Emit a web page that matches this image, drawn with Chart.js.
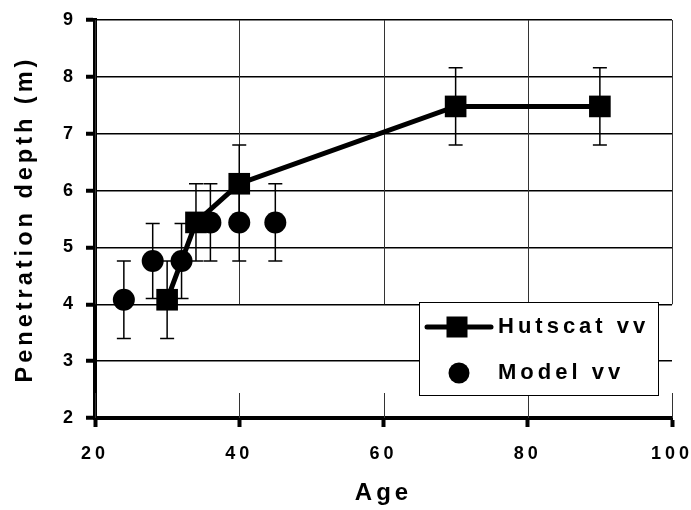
<!DOCTYPE html>
<html><head><meta charset="utf-8">
<script src="https://cdn.jsdelivr.net/npm/chart.js@4.4.1/dist/chart.umd.min.js"></script>
<style>html,body{margin:0;padding:0;background:#fff;} canvas{display:block}</style>
</head><body>
<canvas id="c" width="691" height="510" style="width:691px;height:510px"></canvas>
<script>
const hutscatAge = [30, 34, 40, 70, 90];
const hutscatDepth = [4.08, 5.44, 6.12, 7.48, 7.48];
const hutscatErr = [0.68, 0.68, 0.68, 0.68, 0.68];
const modelAge = [24, 28, 32, 36, 40, 45];
const modelDepth = [4.08, 4.76, 4.76, 5.44, 5.44, 5.44];
const modelErr = [0.68, 0.66, 0.66, 0.68, 0.68, 0.68];
const seriesNames = ['Hutscat vv', 'Model vv'];
const xTitle = 'Age';
const yTitle = 'Penetration depth (m)';
const xTicks = [20, 40, 60, 80, 100];
const yTicks = [2, 3, 4, 5, 6, 7, 8, 9];

const FONT = "'Liberation Sans', Arial, sans-serif";

function toPoints(xs, ys) { return xs.map((x, i) => ({ x: x, y: ys[i] })); }

const spacingPlugin = {
  id: 'spacing',
  beforeLayout(chart) { chart.ctx.letterSpacing = '4px'; },
  beforeDraw(chart) { chart.ctx.letterSpacing = '4px'; }
};

function legendBox(chart) {
  const a = chart.chartArea;
  const w = 239, h = 93;
  const right = a.right - 14, bottom = a.bottom - 23;
  return { x: right - w, y: bottom - h, w: w, h: h };
}

const gridPlugin = {
  id: 'vgrid',
  beforeDatasetsDraw(chart) {
    const ctx = chart.ctx, xs = chart.scales.x, ys = chart.scales.y, a = chart.chartArea;
    const lb = legendBox(chart);
    const gapTop = ys.getPixelForValue(4);
    const gapBottom = lb.y + lb.h - 2;
    ctx.save();
    ctx.strokeStyle = '#333';
    ctx.lineWidth = 1;
    xTicks.forEach(v => {
      const x = Math.round(xs.getPixelForValue(v)) + 0.5;
      ctx.beginPath();
      ctx.moveTo(x, a.top);
      ctx.lineTo(x, gapTop);
      ctx.moveTo(x, gapBottom);
      ctx.lineTo(x, a.bottom);
      ctx.stroke();
    });
    ctx.restore();
  }
};

const errorPlugin = {
  id: 'errbars',
  beforeDatasetsDraw(chart) {
    const ctx = chart.ctx, xs = chart.scales.x, ys = chart.scales.y;
    ctx.save();
    ctx.strokeStyle = '#000';
    ctx.lineWidth = 1.5;
    chart.data.datasets.forEach(ds => {
      ds.data.forEach((p, i) => {
        const e = ds.errors[i];
        const x = xs.getPixelForValue(p.x);
        const y1 = ys.getPixelForValue(p.y - e), y2 = ys.getPixelForValue(p.y + e);
        ctx.beginPath();
        ctx.moveTo(x, y1); ctx.lineTo(x, y2);
        ctx.moveTo(x - 7, y1); ctx.lineTo(x + 7, y1);
        ctx.moveTo(x - 7, y2); ctx.lineTo(x + 7, y2);
        ctx.stroke();
      });
    });
    ctx.restore();
  }
};

const legendPlugin = {
  id: 'boxlegend',
  afterDraw(chart) {
    const ctx = chart.ctx;
    const b = legendBox(chart);
    ctx.save();
    ctx.fillStyle = '#fff';
    ctx.fillRect(b.x, b.y, b.w, b.h);
    ctx.strokeStyle = '#000';
    ctx.lineWidth = 1;
    ctx.strokeRect(Math.round(b.x) + 0.5, Math.round(b.y) + 0.5, b.w, b.h);
    const row1 = b.y + 25, row2 = b.y + 71;
    ctx.strokeStyle = '#000';
    ctx.lineWidth = 5;
    ctx.lineCap = 'round';
    ctx.beginPath();
    ctx.moveTo(b.x + 8, row1); ctx.lineTo(b.x + 72, row1);
    ctx.stroke();
    ctx.fillStyle = '#000';
    ctx.fillRect(b.x + 38 - 10.5, row1 - 10.5, 21, 21);
    ctx.beginPath();
    ctx.arc(b.x + 40, row2, 10.5, 0, Math.PI * 2);
    ctx.fill();
    ctx.letterSpacing = '4px';
    ctx.font = 'bold 22px ' + FONT;
    ctx.textBaseline = 'middle';
    ctx.textAlign = 'left';
    ctx.fillText(seriesNames[0], b.x + 79, row1);
    ctx.fillText(seriesNames[1], b.x + 79, row2);
    ctx.restore();
  }
};

new Chart(document.getElementById('c'), {
  type: 'scatter',
  data: {
    datasets: [
      {
        label: seriesNames[0],
        data: toPoints(hutscatAge, hutscatDepth),
        errors: hutscatErr,
        showLine: true,
        borderColor: '#000',
        backgroundColor: '#000',
        borderWidth: 5,
        pointStyle: 'rect',
        pointRadius: 15.3,
        pointBorderWidth: 0,
        pointBackgroundColor: '#000'
      },
      {
        label: seriesNames[1],
        data: toPoints(modelAge, modelDepth),
        errors: modelErr,
        showLine: false,
        borderColor: '#000',
        backgroundColor: '#000',
        pointStyle: 'circle',
        pointRadius: 11,
        pointBorderWidth: 0,
        pointBackgroundColor: '#000'
      }
    ]
  },
  options: {
    responsive: false,
    animation: false,
    devicePixelRatio: 1,
    layout: { padding: { top: 20, right: 19, left: 0, bottom: 0 } },
    plugins: { legend: { display: false }, tooltip: { enabled: false } },
    scales: {
      x: {
        type: 'linear',
        min: 20, max: 100,
        afterBuildTicks: s => { s.ticks = xTicks.map(v => ({ value: v })); },
        afterFit: s => { s.height = 92; s.paddingLeft = 0; s.paddingRight = 0; },
        grid: { drawOnChartArea: false, tickLength: 9, tickWidth: 4, tickColor: '#000' },
        border: { display: true, color: '#000', width: 4 },
        ticks: { color: '#000', padding: 16, font: { family: FONT, size: 18, weight: 'bold' }, maxRotation: 0 },
        title: { display: true, text: xTitle, color: '#000', padding: { top: 0, bottom: 2 }, font: { family: FONT, size: 24, weight: 'bold' } }
      },
      y: {
        type: 'linear',
        min: 2, max: 9,
        afterBuildTicks: s => { s.ticks = yTicks.map(v => ({ value: v })); },
        afterFit: s => { s.width = 95; s.paddingTop = 0; s.paddingBottom = 0; },
        grid: { color: '#000', lineWidth: 1.5, tickLength: 9, tickWidth: 4, tickColor: '#000' },
        border: { display: true, color: '#000', width: 4 },
        ticks: { color: '#000', padding: 9, font: { family: FONT, size: 18, weight: 'bold' } },
        title: { display: true, text: yTitle, color: '#000', padding: { top: 11, bottom: 0 }, font: { family: FONT, size: 23.5, weight: 'bold' } }
      }
    }
  },
  plugins: [spacingPlugin, gridPlugin, errorPlugin, legendPlugin]
});
</script>
</body></html>
